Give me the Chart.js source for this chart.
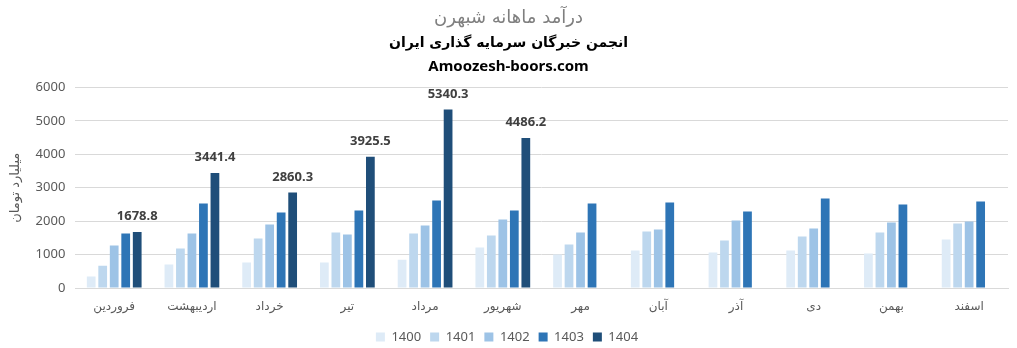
<!DOCTYPE html>
<html><head><meta charset="utf-8">
<script src="https://cdn.jsdelivr.net/npm/chart.js@4/dist/chart.umd.min.js"></script>
<style>html,body{margin:0;padding:0;background:#fff}#wrap{width:1017px;height:348px}</style>
</head><body><div id="wrap"><canvas id="c" width="1017" height="348"></canvas></div>
<script>
const months = ["فروردین","اردیبهشت","خرداد","تیر","مرداد","شهریور","مهر","آبان","آذر","دی","بهمن","اسفند"];
const years = ["1400","1401","1402","1403","1404"];
const v1400 = [346,705,765,765,845,1212,1003,1122,1063,1122,1033,1451];
const v1401 = [665,1182,1481,1660,1630,1570,1302,1690,1421,1540,1660,1928];
const v1402 = [1272,1630,1899,1600,1869,2048,1660,1749,2018,1779,1958,1988];
const v1403 = [1630,2526,2257,2316,2615,2316,2526,2555,2287,2675,2496,2585];
const v1404 = [1678.8,3441.4,2860.3,3925.5,5340.3,4486.2,null,null,null,null,null,null];
const colors = ["#DEEBF7","#BDD7EE","#9DC3E6","#2E75B6","#1F4E79"];
const titleLines = ["درآمد ماهانه شبهرن","انجمن خبرگان سرمایه گذاری ایران","Amoozesh-boors.com"];
const yTitle = "میلیارد تومان";

const series = [v1400,v1401,v1402,v1403,v1404];
const FONT = "'Noto Sans','DejaVu Sans',sans-serif";

const legendFitPlugin = {
  id:'legendfit',
  afterInit(chart){
    const lg = chart.legend;
    if (!lg) return;
    const f = lg.fit.bind(lg);
    lg.fit = function(){ f(); this.height = 26.5; };
  }
};
const titlePlugin = {
  id:'titles',
  afterDraw(chart){
    const ctx = chart.ctx; const cx = chart.width/2;
    ctx.save();
    ctx.textAlign='center'; ctx.textBaseline='middle';
    ctx.fillStyle='#7f7f7f'; ctx.font="18px 'DejaVu Sans',sans-serif";
    ctx.fillText(titleLines[0], cx, 18);
    ctx.fillStyle='#000'; ctx.font="bold 14px 'DejaVu Sans',sans-serif";
    ctx.fillText(titleLines[1], cx, 43);
    ctx.font="bold 15px 'Noto Sans','DejaVu Sans',sans-serif";
    ctx.fillText(titleLines[2], cx, 67);
    ctx.restore();
  }
};
const labelPlugin = {
  id:'barlabels',
  afterDatasetsDraw(chart){
    const ctx = chart.ctx;
    const meta = chart.getDatasetMeta(4);
    ctx.save();
    ctx.textAlign='center'; ctx.textBaseline='bottom';
    ctx.fillStyle='#404040'; ctx.font="bold 13px 'Noto Sans','DejaVu Sans',sans-serif";
    meta.data.forEach((el,i)=>{
      const v = v1404[i];
      if (v==null) return;
      ctx.fillText(v.toFixed(1), el.x, el.y-9);
    });
    ctx.restore();
  }
};

new Chart(document.getElementById('c'), {
  type:'bar',
  data:{
    labels: months,
    datasets: years.map((y,i)=>({label:y, data:series[i], backgroundColor:colors[i], categoryPercentage:0.74, barPercentage:0.76}))
  },
  options:{
    responsive:false, animation:false,
    layout:{padding:{top:87.5,right:9,left:6,bottom:0}},
    plugins:{
      legend:{position:'bottom', labels:{boxWidth:9, boxHeight:9, color:'#595959', font:{family:FONT,size:13}, padding:9}},
      tooltip:{enabled:false},
      title:{display:false}
    },
    scales:{
      x:{grid:{display:false, drawTicks:false}, border:{color:'#d9d9d9'},
         ticks:{color:'#595959', font:{family:"'DejaVu Sans',sans-serif", size:12}, padding:12},
         afterFit(s){ s.height = 33.5; }},
      y:{min:0,max:6000, ticks:{stepSize:1000, color:'#595959', font:{family:FONT,size:13}, padding:10, callback:(v)=>String(v)},
         grid:{color:'#d9d9d9', drawTicks:false}, border:{display:false},
         title:{display:true, text:yTitle, color:'#595959', font:{family:"'DejaVu Sans',sans-serif", size:13}, padding:2}}
    }
  },
  plugins:[legendFitPlugin,titlePlugin,labelPlugin]
});
</script></body></html>
